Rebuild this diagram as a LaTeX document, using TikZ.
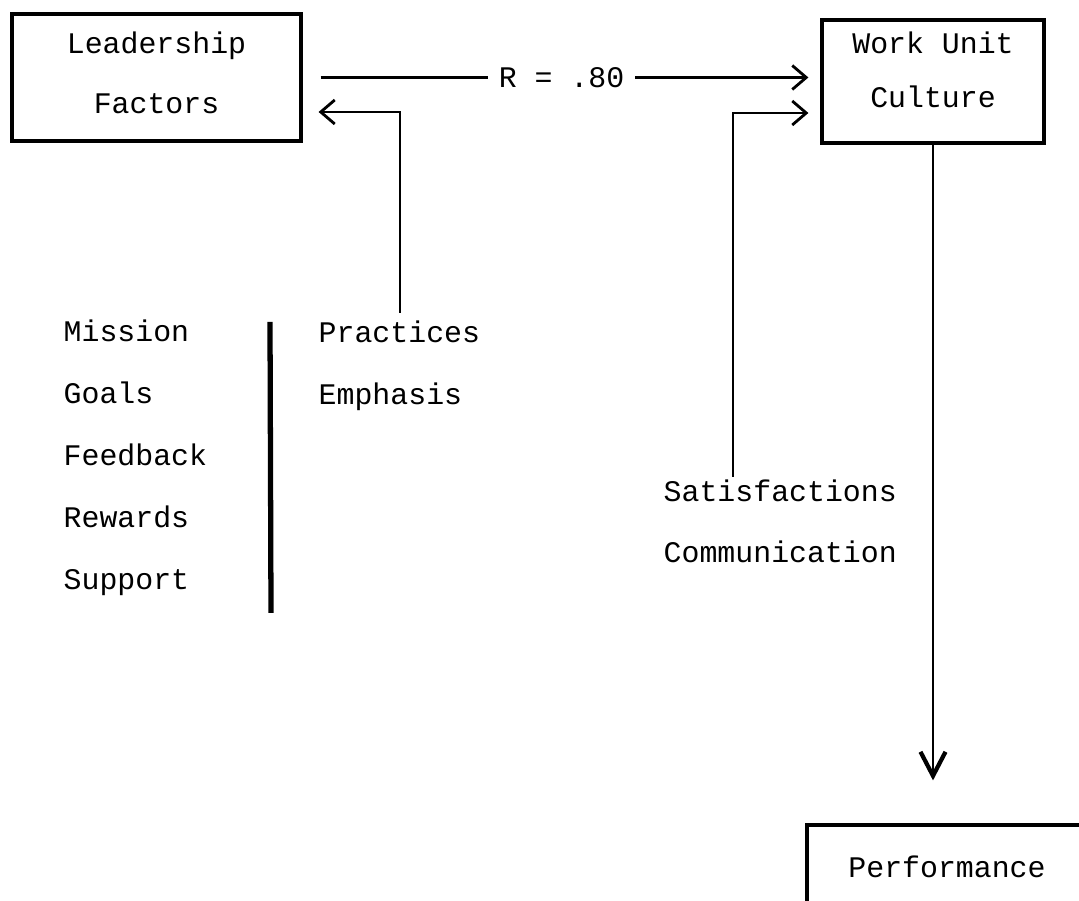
\documentclass[tikz,border=0pt]{standalone}
\usepackage{fontspec}
\setmonofont{Liberation Mono}
\usetikzlibrary{arrows.meta}
\tikzset{
  box/.style={draw, line width=0.9pt, font=\ttfamily\fontsize{8.5pt}{17pt}\selectfont, align=center, inner sep=0pt},
  word/.style={font=\ttfamily\fontsize{8.5pt}{10pt}\selectfont, inner sep=0pt, anchor=base west},
  link/.style={line width=0.7pt, -{Straight Barb[length=1.4mm,width=2.4mm,line width=0.8pt]}},
}
\begin{document}
\begin{tikzpicture}
	\useasboundingbox (0,0) rectangle (10.79,9.01);
	\clip (0,0) rectangle (10.79,9.01);
	\node[box, minimum width=2.89cm, minimum height=1.27cm, text depth=0.10cm] (lead) at (1.565,8.235) {Leadership\\Factors};
	\node[box, minimum width=2.22cm, minimum height=1.23cm, text depth=0.24cm, font=\ttfamily\fontsize{8.5pt}{15.4pt}\selectfont] (wu) at (9.33,8.195) {Work Unit\\Culture};
	\node[box, minimum width=2.8cm, minimum height=0.84cm] (perf) at (9.47,0.34) {Performance};
	\foreach \w/\y [count=\i] in {Mission/5.59,Goals/4.97,Feedback/4.35,Rewards/3.73,Support/3.11}
		\node[word] (F\i) at (0.63,\y) {\w};
	\node[word] (prac) at (3.18,5.58) {Practices};
	\node[word] (emph) at (3.18,4.96) {Emphasis};
	\node[word] (sat) at (6.63,3.99) {Satisfactions};
	\node[word] (comm) at (6.63,3.38) {Communication};
	\coordinate (D1) at (2.70,5.79);
	\coordinate (D2) at (2.71,2.88);
	\coordinate (P1) at (4.00,5.88);
	\coordinate (S1) at (7.33,4.24);
	\draw[line width=1.5pt] (D1)--(D2);
	\draw[link, shorten <=0.18cm, shorten >=0.12cm] (lead.east) -- node[word, anchor=center, fill=white, inner xsep=3pt, inner ysep=2pt] {R = .80} (lead.east -| wu.west);
	\draw[link, shorten >=0.16cm] (P1) |- ([yshift=-0.345cm]lead.east);
	\draw[link, shorten >=0.12cm] (S1) |- ([yshift=-0.315cm]wu.west);
	\draw[line width=0.8pt, -{Straight Barb[length=2.4mm,width=2.5mm,line width=1.2pt]}, shorten >=0.43cm] (wu.south) -- (wu.south |- perf.north);
\end{tikzpicture}
\end{document}
